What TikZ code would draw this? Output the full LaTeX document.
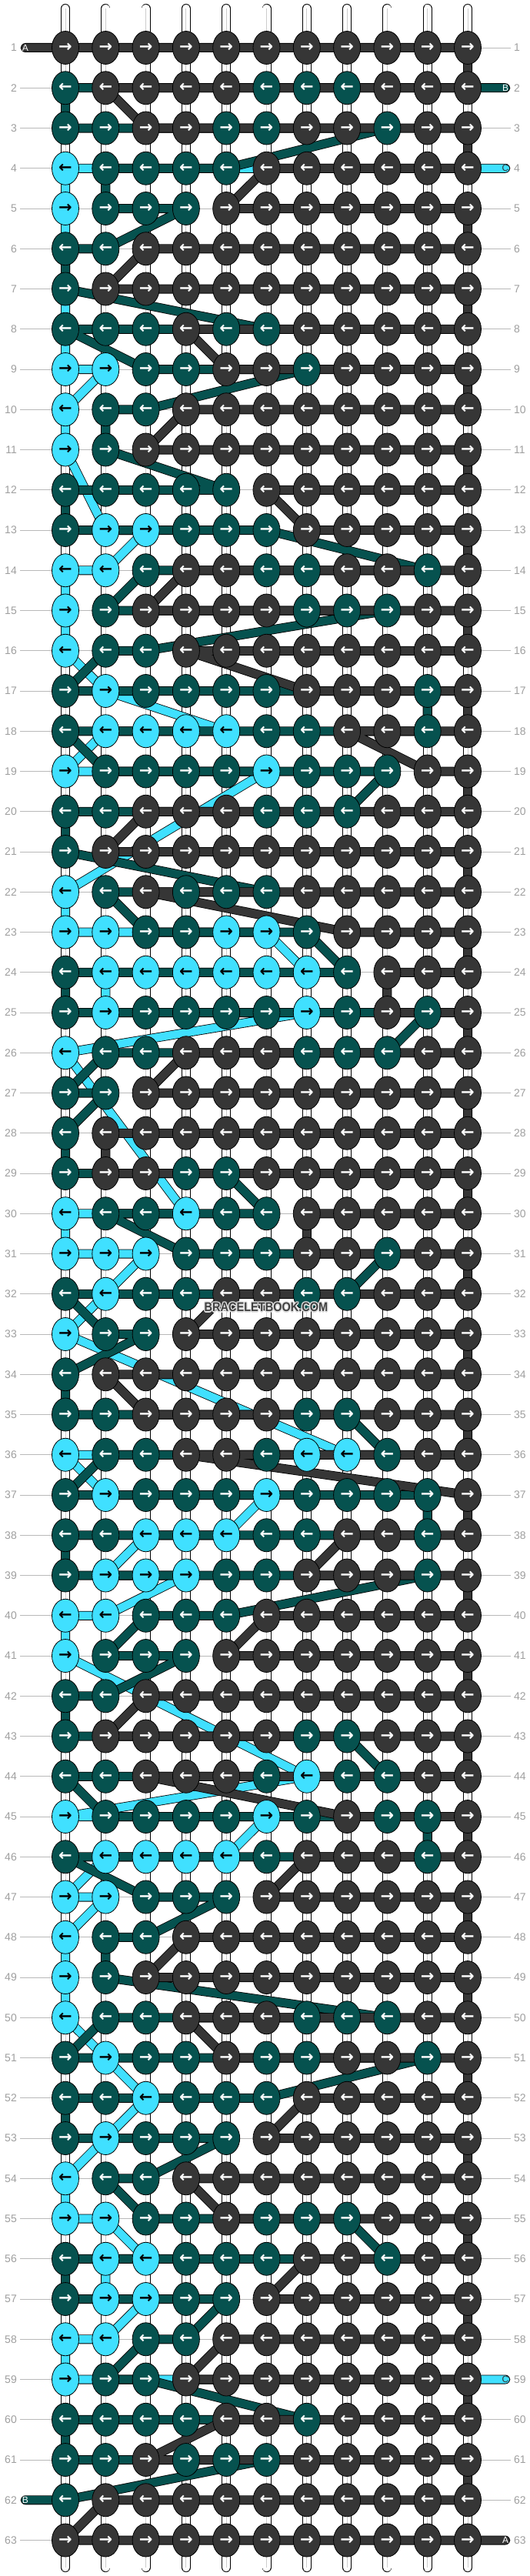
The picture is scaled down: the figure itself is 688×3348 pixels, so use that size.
\documentclass[tikz,border=0pt]{standalone}
\usepackage{fontspec}
\setmainfont{Liberation Sans}
\newfontfamily\arrowfont{DejaVu Sans}
\usepackage{tikz}
\usetikzlibrary{calc,positioning,shapes.geometric}
\definecolor{colD}{HTML}{363636}
\definecolor{colT}{HTML}{06524F}
\definecolor{colC}{HTML}{40E0FF}
\colorlet{arrD}{white}
\colorlet{arrT}{white}
\colorlet{arrC}{black}
\newcommand{\arR}{{\arrowfont\bfseries →}}
\newcommand{\arL}{{\arrowfont\bfseries ←}}
\newcommand{\wmtext}{\scalebox{0.88}[1]{BRACELETBOOK.COM}}
\tikzset{%
	knot/.style     = {draw, ellipse, line width=0.8pt, fill=col#1, text=arr#1, minimum width=35pt, minimum height=43pt, inner sep=0pt, font=\fontsize{21}{21}\selectfont}, % knot
	rod/.style      = {draw=black, line width=0.8pt, double=white, double distance=10.4pt, line cap=round}, % background string
	rodline/.style  = {draw=gray!40, line width=1pt},
	thread/.style   = {draw=black, line width=0.8pt, double=col#1, double distance=10.4pt, line join=round, line cap=round}, % knotting string
	guide/.style    = {draw=gray!55, line width=0.8pt}, % row line
	rowno/.style    = {text=gray!75, font=\fontsize{14}{14}\selectfont, inner sep=0pt},
	endtag/.style   = {font=\fontsize{12}{12}\selectfont, inner sep=0pt},
	watermark/.style= {text=black!75, font=\fontsize{16.5}{16.5}\selectfont\bfseries, inner sep=1pt},
	halo/.style     = {watermark, text=gray!25},
}

\begin{document}
\begin{tikzpicture}[x=1pt,y=-1pt]
	\fill[white] (0,0) rectangle (688,3348);
	\useasboundingbox (0,0) rectangle (688,3348);

	% grid points
	\foreach \r in {1,...,63} {
		\foreach \c in {1,...,11} {
			\coordinate (p-\r-\c) at ({85+52.3*(\c-1)},{62+52.25*(\r-1)});
		}
	}

	% row numbers
	\foreach \r in {1,...,63} {
		\node [rowno,anchor=east] (ln-\r) at (22,{62+52.25*(\r-1)}) {\r};
		\node [rowno,anchor=west] (rn-\r) at (668,{62+52.25*(\r-1)}) {\r};
		\draw [guide] ([xshift=4pt]ln-\r.east) -- ([xshift=-4pt]rn-\r.west);
	}

	% background strings
	\foreach \c in {1,...,11} {
		\coordinate (rt-\c) at ({85+52.3*(\c-1)},11);
		\coordinate (rb-\c) at ({85+52.3*(\c-1)},3337);
		\draw [rod] (rt-\c) -- (rb-\c);
		\draw [rodline] (rt-\c) -- (rb-\c);
	}

	% free ends
	\coordinate (inA)  at ($(p-1-1)+(-52,0)$);
	\coordinate (inB)  at ($(p-2-11)+(49,0)$);
	\coordinate (inC)  at ($(p-4-11)+(49,0)$);
	\coordinate (outC) at ($(p-59-11)+(49,0)$);
	\coordinate (outB) at ($(p-62-1)+(-52,0)$);
	\coordinate (outA) at ($(p-63-11)+(49,0)$);

	% knotting strings
	\draw [thread=C] (inC) \foreach \r/\c in {4/1,5/1,9/1,9/2,10/1,11/1,13/2,13/3,14/2,14/1,15/1,16/1,17/2,18/5,18/2,19/1,19/6,22/1,23/1,23/6,24/7,24/2,25/2,25/7,26/1,30/4,30/1,31/1,31/3,32/2,33/1,36/8,36/1,37/2,37/6,38/5,38/3,39/2,39/4,40/2,40/1,41/1,44/7,45/1,45/6,46/5,46/2,47/1,47/2,48/1,49/1,50/1,51/2,52/3,53/2,54/1,55/1,55/2,56/3,56/2,57/2,57/3,58/2,58/1,59/1} { -- (p-\r-\c) } -- (outC);
	\draw [thread=T] (inB) \foreach \r/\c in {2/1,3/1,3/9,4/5,4/2,5/2,5/4,6/2,6/1,7/1,8/6,8/1,9/3,9/7,10/3,10/2,11/2,12/5,12/1,13/1,13/6,14/10,14/3,15/2,15/9,16/3,16/2,17/1,17/10,18/10,18/1,19/2,19/9,20/8,20/1,21/1,22/6,22/2,23/3,23/7,24/8,24/1,25/1,25/10,26/9,26/2,27/1,27/2,28/1,29/1,29/5,30/6,30/2,31/4,31/9,32/8,32/1,33/2,33/3,34/1,35/1,35/8,36/9,36/2,37/1,37/10,38/10,38/1,39/1,39/10,40/5,40/3,41/2,41/4,42/2,42/1,43/1,43/8,44/9,44/1,45/2,45/10,46/10,46/1,47/3,47/5,48/3,48/2,49/2,50/9,50/2,51/1,51/10,52/6,52/1,53/1,53/5,54/3,54/2,55/3,55/8,56/9,56/1,57/1,57/5,58/4,58/3,59/2,59/3,60/7,60/1,61/1,61/6,62/1} { -- (p-\r-\c) } -- (outB);
	\draw [thread=D] (inA) \foreach \r/\c in {1/1,1/11,2/11,2/2,3/3,3/11,4/11,4/6,5/5,5/11,6/11,6/3,7/2,7/11,8/11,8/4,9/5,9/11,10/11,10/4,11/3,11/11,12/11,12/6,13/7,13/11,14/11,14/4,15/3,15/11,16/11,16/4,17/7,17/11,18/11,18/8,19/10,19/11,20/11,20/3,21/2,21/11,22/11,22/3,23/8,23/11,24/11,24/9,25/9,25/11,26/11,26/4,27/3,27/11,28/11,28/2,29/2,29/11,30/11,30/7,31/7,31/11,32/11,32/5,33/4,33/11,34/11,34/2,35/3,35/11,36/11,36/4,37/11,38/11,38/8,39/7,39/11,40/11,40/6,41/5,41/11,42/11,42/3,43/2,43/11,44/11,44/3,45/8,45/11,46/11,46/7,47/6,47/11,48/11,48/4,49/3,49/11,50/11,50/4,51/5,51/11,52/11,52/7,53/6,53/11,54/11,54/4,55/5,55/11,56/11,56/7,57/6,57/11,58/11,58/5,59/4,59/11,60/11,60/5,61/3,61/11,62/11,62/2,63/1,63/11} { -- (p-\r-\c) } -- (outA);

	\node [endtag,text=white]    (tagA)  at (inA)  {A};
	\node [endtag,text=white]    (tagB)  at (inB)  {B};
	\node [endtag,text=black!80] (tagC)  at (inC)  {C};
	\node [endtag,text=black!80] (tagC2) at (outC) {C};
	\node [endtag,text=white]    (tagB2) at (outB) {B};
	\node [endtag,text=white]    (tagA2) at (outA) {A};

	% knots
	\foreach \r/\cols in {
		1/{D,D,D,D,D,D,D,D,D,D,D},
		2/{T,D,D,D,D,T,T,T,D,D,D},
		3/{T,T,D,D,T,T,D,D,T,D,D},
		4/{C,T,T,T,T,D,D,D,D,D,D},
		5/{C,T,T,T,D,D,D,D,D,D,D},
		6/{T,T,D,D,D,D,D,D,D,D,D},
		7/{T,D,D,D,D,D,D,D,D,D,D},
		8/{T,T,T,D,T,T,D,D,D,D,D},
		9/{C,C,T,T,D,D,T,D,D,D,D},
		10/{C,T,T,D,D,D,D,D,D,D,D},
		11/{C,T,D,D,D,D,D,D,D,D,D},
		12/{T,T,T,T,T,D,D,D,D,D,D},
		13/{T,C,C,T,T,T,D,D,D,D,D},
		14/{C,C,T,D,D,T,T,D,D,T,D},
		15/{C,T,D,D,D,D,T,T,T,D,D},
		16/{C,T,T,D,D,D,D,D,D,D,D},
		17/{T,C,T,T,T,T,D,D,D,T,D},
		18/{T,C,C,C,C,T,T,D,D,T,D},
		19/{C,T,T,T,T,C,T,T,T,D,D},
		20/{T,T,D,D,D,T,T,T,D,D,D},
		21/{T,D,D,D,D,D,D,D,D,D,D},
		22/{C,T,D,T,T,T,D,D,D,D,D},
		23/{C,C,T,T,C,C,T,D,D,D,D},
		24/{T,C,C,C,C,C,C,T,D,D,D},
		25/{T,C,T,T,T,T,C,T,D,T,D},
		26/{C,T,T,D,D,D,T,T,T,D,D},
		27/{T,T,D,D,D,D,D,D,D,D,D},
		28/{T,D,D,D,D,D,D,D,D,D,D},
		29/{T,D,D,T,T,D,D,D,D,D,D},
		30/{C,T,T,C,T,T,D,D,D,D,D},
		31/{C,C,C,T,T,T,D,D,T,D,D},
		32/{T,C,T,T,D,D,T,T,D,D,D},
		33/{C,T,T,D,D,D,D,D,D,D,D},
		34/{T,D,D,D,D,D,D,D,D,D,D},
		35/{T,T,D,D,D,D,T,T,D,D,D},
		36/{C,T,T,D,D,T,C,C,T,D,D},
		37/{T,C,T,T,T,C,T,T,T,T,D},
		38/{T,T,C,C,C,T,T,D,D,T,D},
		39/{T,C,C,C,T,T,D,D,D,T,D},
		40/{C,C,T,T,T,D,D,D,D,D,D},
		41/{C,T,T,T,D,D,D,D,D,D,D},
		42/{T,T,D,D,D,D,D,D,D,D,D},
		43/{T,D,D,D,D,D,T,T,D,D,D},
		44/{T,T,D,D,D,T,C,T,T,D,D},
		45/{C,T,T,T,T,C,T,D,T,T,D},
		46/{T,C,C,C,C,T,D,D,D,T,D},
		47/{C,C,T,T,T,D,D,D,D,D,D},
		48/{C,T,T,D,D,D,D,D,D,D,D},
		49/{C,T,D,D,D,D,D,D,D,D,D},
		50/{C,T,T,D,D,D,T,T,T,D,D},
		51/{T,C,T,T,D,T,T,D,D,T,D},
		52/{T,T,C,T,T,T,D,D,D,D,D},
		53/{T,C,T,T,T,D,D,D,D,D,D},
		54/{C,T,T,D,D,D,D,D,D,D,D},
		55/{C,C,T,T,D,T,T,T,D,D,D},
		56/{T,C,C,T,T,T,D,D,T,D,D},
		57/{T,C,C,T,T,D,D,D,D,D,D},
		58/{C,C,T,T,D,D,D,D,D,D,D},
		59/{C,T,T,D,D,D,D,D,D,D,D},
		60/{T,T,T,T,D,D,T,D,D,D,D},
		61/{T,T,D,T,T,T,D,D,D,D,D},
		62/{T,D,D,D,D,D,D,D,D,D,D},
		63/{D,D,D,D,D,D,D,D,D,D,D}} {
		\foreach \k [count=\c] in \cols {
			\node [knot=\k] (k-\r-\c) at (p-\r-\c) {\ifodd\r\arR\else\arL\fi};
		}
	}

	% watermark with light rim
	\foreach \dx/\dy [count=\i] in {-1.3/0,1.3/0,0/-1.3,0/1.3,-1/-1,1/-1,-1/1,1/1} {
		\node [halo] (wmh-\i) at (346+\dx,1699+\dy) {\wmtext};
	}
	\node [watermark] (wm) at (346,1699) {\wmtext};
\end{tikzpicture}
\end{document}
